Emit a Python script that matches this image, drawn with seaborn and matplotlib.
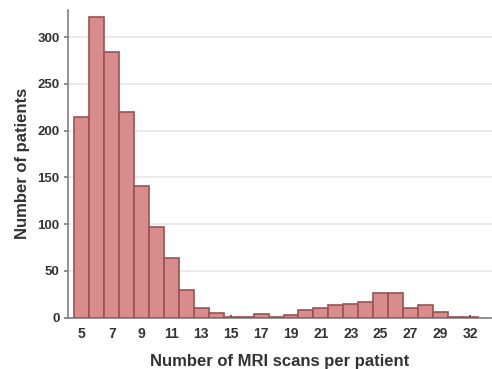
import matplotlib
matplotlib.use("Agg")
import matplotlib.pyplot as plt
import seaborn as sns
import pandas as pd

scans = [5, 6, 7, 8, 9, 10, 11, 12, 13, 14, 15, 16, 17, 18, 19, 20, 21, 22, 23, 24, 25, 26, 27, 28, 29, 30, 32]
patients = [214, 321, 284, 220, 141, 97, 64, 29, 10, 5, 1, 1, 4, 1, 3, 8, 10, 13, 14, 17, 26, 26, 10, 13, 6, 0.3, 0.3]
tick_labels = ["5", "7", "9", "11", "13", "15", "17", "19", "21", "23", "25", "27", "29", "32"]

df = pd.DataFrame({"scans": [str(s) for s in scans], "patients": patients})

sns.set_theme(style="white")
plt.rcParams["font.family"] = ["Liberation Sans", "DejaVu Sans"]

fig = plt.figure(figsize=(4.92, 3.69), dpi=100)
ax = fig.add_axes([68 / 492, 1 - 317.5 / 369, 1 - 68 / 492, (317.5 - 10) / 369])

sns.barplot(data=df, x="scans", y="patients", ax=ax, width=1.0,
            color="#d98c8c", saturation=1, edgecolor="#9a5252", linewidth=1.2, zorder=3)

ax.set_xlim(-0.93, 27.46)
ax.set_ylim(0, 329)
ax.set_yticks([0, 50, 100, 150, 200, 250, 300])
ax.yaxis.grid(True, color="#e6e6e6", linewidth=1.2, zorder=0)
ax.xaxis.grid(False)

pos = [i for i, s in enumerate(scans) if str(s) in tick_labels]
ax.set_xticks(pos)
ax.set_xticklabels(tick_labels)

for side in ["top", "right"]:
    ax.spines[side].set_visible(False)
for side in ["left", "bottom"]:
    ax.spines[side].set_color("#808080")
    ax.spines[side].set_linewidth(1.2)

ax.tick_params(axis="y", left=True, length=3, color="#808080", labelsize=9.5, pad=3, labelcolor="#333333")
ax.tick_params(axis="x", bottom=True, length=2, direction="in", color="#444444", labelsize=10, pad=7, labelcolor="#333333")
for lab in ax.get_xticklabels() + ax.get_yticklabels():
    lab.set_fontweight("bold")

ax.set_xlabel("Number of MRI scans per patient", fontsize=12, fontweight="bold", color="#333333", labelpad=9)
ax.set_ylabel("Number of patients", fontsize=12, fontweight="bold", color="#333333", labelpad=5)

fig.savefig("out.png", dpi=100)
